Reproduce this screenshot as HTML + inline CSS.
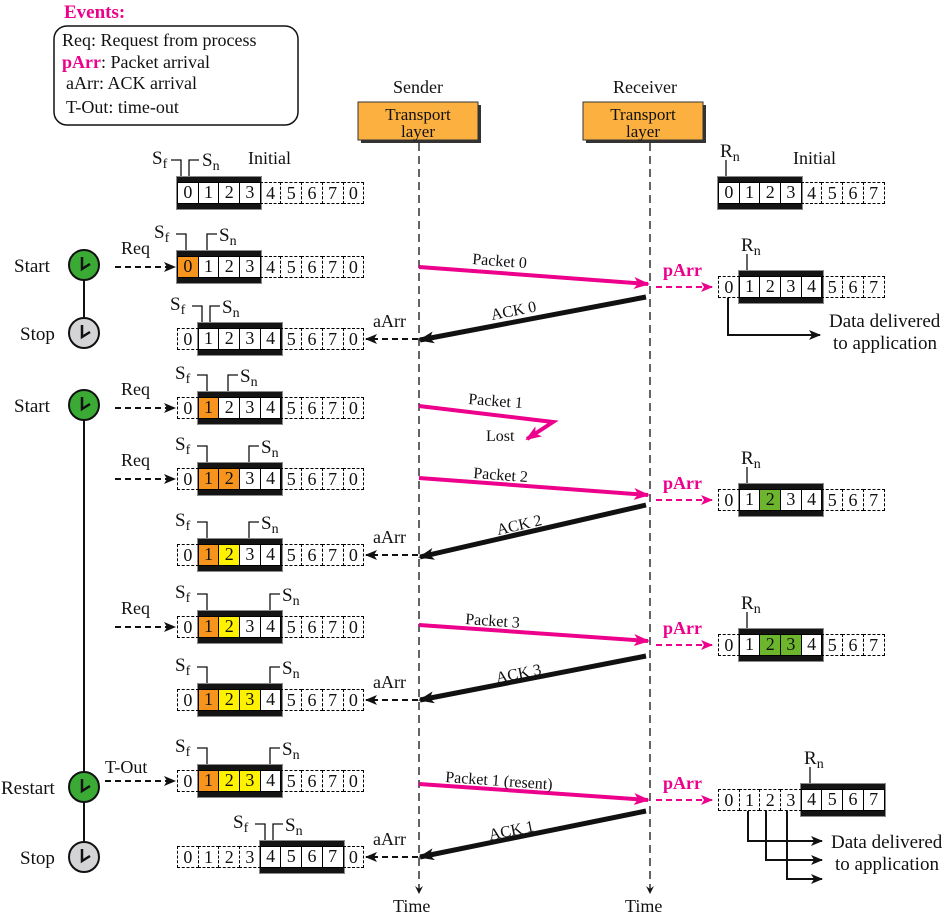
<!DOCTYPE html>
<html><head><meta charset="utf-8"><style>
body{margin:0;width:952px;height:917px;background:#fff;position:relative;overflow:hidden;font-family:"Liberation Serif",serif}
svg{position:absolute;left:0;top:0}
.win{position:absolute;background:#141414;border:1px solid #8a8a8a;box-sizing:border-box;height:34px}
.r{position:absolute;height:22px;display:flex}
.r span{flex:none;width:21.7px;height:22px;box-sizing:border-box;border:1px dashed #000;margin-left:-1px;text-align:center;font:18px/20px "Liberation Serif",serif;color:#111}
.r span.w{border:1.5px solid #000;background:#fff;line-height:19px}
.r span.o{background:#f7941d}
.r span.y{background:#fff200}
.r span.g{background:#6cb52d}
</style></head><body>
<svg width="952" height="917" font-family="Liberation Serif, serif" font-size="18" fill="#111">
<defs>
<marker id="ap" markerWidth="16" markerHeight="12" refX="14" refY="6" orient="auto" markerUnits="userSpaceOnUse"><path d="M0,0 L16,6 L0,12 L4,6z" fill="#ec008c"/></marker>
<marker id="ab" markerWidth="16" markerHeight="12" refX="14" refY="6" orient="auto" markerUnits="userSpaceOnUse"><path d="M0,0 L16,6 L0,12 L4,6z" fill="#111"/></marker>
<marker id="as" markerWidth="12" markerHeight="10" refX="11" refY="5" orient="auto" markerUnits="userSpaceOnUse"><path d="M0,0 L12,5 L0,10 L3,5z" fill="#111"/></marker>
<marker id="asp" markerWidth="12" markerHeight="10" refX="11" refY="5" orient="auto" markerUnits="userSpaceOnUse"><path d="M0,0 L12,5 L0,10 L3,5z" fill="#ec008c"/></marker>
<marker id="at" markerWidth="8" markerHeight="8" refX="4" refY="7" orient="0" markerUnits="userSpaceOnUse"><path d="M0,0 L4,8 L8,0 L4,3z" fill="#111"/></marker>
</defs>
<!-- legend -->
<text x="64" y="18" font-weight="bold" fill="#ec008c" font-size="19">Events:</text>
<rect x="54" y="26" width="244" height="99" rx="13" fill="none" stroke="#111" stroke-width="1.5"/>
<text x="62" y="46">Req: Request from process</text>
<text x="62" y="68"><tspan fill="#ec008c" font-weight="bold">pArr</tspan>: Packet arrival</text>
<text x="66" y="89">aArr: ACK arrival</text>
<text x="66" y="113">T-Out: time-out</text>
<!-- headers -->
<text x="418" y="93" text-anchor="middle">Sender</text>
<text x="645" y="93" text-anchor="middle">Receiver</text>
<rect x="361" y="105" width="120" height="38" fill="#333"/>
<rect x="358" y="102" width="120" height="38" fill="#fbb040" stroke="#333"/>
<text x="418" y="120" text-anchor="middle" font-size="17">Transport</text>
<text x="418" y="137" text-anchor="middle" font-size="17">layer</text>
<rect x="586" y="105" width="120" height="38" fill="#333"/>
<rect x="583" y="102" width="120" height="38" fill="#fbb040" stroke="#333"/>
<text x="643" y="120" text-anchor="middle" font-size="17">Transport</text>
<text x="643" y="137" text-anchor="middle" font-size="17">layer</text>
<!-- lifelines -->
<line x1="419" y1="143" x2="419" y2="893" stroke="#111" stroke-width="1.3" stroke-dasharray="8,5" marker-end="url(#at)"/>
<line x1="650" y1="143" x2="650" y2="893" stroke="#111" stroke-width="1.3" stroke-dasharray="8,5" marker-end="url(#at)"/>
<text x="393" y="912">Time</text>
<text x="625" y="912">Time</text>
<text x="248" y="164">Initial</text>
<text x="793" y="164">Initial</text>
<!-- clocks -->
<g stroke="#111" stroke-width="2">
<line x1="84" y1="280" x2="84" y2="318"/><line x1="84" y1="420" x2="84" y2="772"/><line x1="84" y1="802" x2="84" y2="842"/>
<circle cx="84" cy="265" r="15" fill="#3aaa35"/><circle cx="84" cy="333" r="15" fill="#d4d4d6"/>
<circle cx="84" cy="405" r="15" fill="#3aaa35"/><circle cx="84" cy="787" r="15" fill="#3aaa35"/>
<circle cx="84" cy="857" r="15" fill="#d4d4d6"/>
<g fill="none" stroke-width="2.5"><path d="M82,257V269L90,264"/><path d="M82,325V337L90,332"/><path d="M82,397V409L90,404"/><path d="M82,779V791L90,786"/><path d="M82,849V861L90,856"/></g>
</g>
<g font-size="19"><text x="14" y="272">Start</text><text x="20" y="340">Stop</text><text x="14" y="412">Start</text><text x="1" y="794">Restart</text><text x="20" y="864">Stop</text></g>
<!-- req arrows -->
<g stroke="#111" stroke-width="2" stroke-dasharray="6,4">
<line x1="115" y1="267" x2="175" y2="267" marker-end="url(#as)"/>
<line x1="115" y1="408" x2="175" y2="408" marker-end="url(#as)"/>
<line x1="115" y1="479" x2="175" y2="479" marker-end="url(#as)"/>
<line x1="115" y1="627" x2="175" y2="627" marker-end="url(#as)"/>
<line x1="105" y1="781" x2="175" y2="781" marker-end="url(#as)"/>
<line x1="418" y1="339" x2="366" y2="339" marker-end="url(#as)"/>
<line x1="418" y1="555" x2="366" y2="555" marker-end="url(#as)"/>
<line x1="418" y1="700" x2="366" y2="700" marker-end="url(#as)"/>
<line x1="418" y1="857" x2="366" y2="857" marker-end="url(#as)"/>
</g>
<text x="121" y="254">Req</text><text x="121" y="395">Req</text><text x="121" y="466">Req</text><text x="121" y="614">Req</text><text x="105" y="773">T-Out</text>
<text x="373" y="327">aArr</text><text x="373" y="543">aArr</text><text x="373" y="688">aArr</text><text x="373" y="845">aArr</text>
<!-- packets -->
<g stroke="#ec008c" stroke-width="4" fill="none">
<line x1="419" y1="267" x2="648" y2="284" marker-end="url(#ap)"/>
<polyline points="419,406 553,422 527,439" marker-end="url(#ap)"/>
<line x1="419" y1="478" x2="648" y2="495" marker-end="url(#ap)"/>
<line x1="419" y1="625" x2="648" y2="641" marker-end="url(#ap)"/>
<line x1="419" y1="784" x2="648" y2="800" marker-end="url(#ap)"/>
</g>
<g stroke="#111" stroke-width="5" fill="none">
<line x1="646" y1="297" x2="420" y2="340" marker-end="url(#ab)"/>
<line x1="646" y1="505" x2="420" y2="557" marker-end="url(#ab)"/>
<line x1="646" y1="656" x2="420" y2="700" marker-end="url(#ab)"/>
<line x1="646" y1="811" x2="420" y2="857" marker-end="url(#ab)"/>
</g>
<g font-size="16">
<text x="472" y="264" transform="rotate(4.3 472 264)">Packet 0</text>
<text x="468" y="404" transform="rotate(4.3 468 404)">Packet 1</text>
<text x="486" y="441">Lost</text>
<text x="473" y="478" transform="rotate(4.3 473 478)">Packet 2</text>
<text x="465" y="624" transform="rotate(4 465 624)">Packet 3</text>
<text x="445" y="782" transform="rotate(4 445 782)">Packet 1 (resent)</text>
<text x="492" y="320" transform="rotate(-10.8 492 320)">ACK 0</text>
<text x="498" y="535" transform="rotate(-12.8 498 535)">ACK 2</text>
<text x="497" y="683" transform="rotate(-11 497 683)">ACK 3</text>
<text x="490" y="840" transform="rotate(-11.5 490 840)">ACK 1</text>
</g>
<!-- pArr -->
<g stroke="#ec008c" stroke-width="2" stroke-dasharray="6,4">
<line x1="656" y1="287" x2="712" y2="287" marker-end="url(#asp)"/>
<line x1="656" y1="500" x2="712" y2="500" marker-end="url(#asp)"/>
<line x1="656" y1="645" x2="712" y2="645" marker-end="url(#asp)"/>
<line x1="656" y1="800" x2="712" y2="800" marker-end="url(#asp)"/>
</g>
<g fill="#ec008c" font-weight="bold"><text x="663" y="276">pArr</text><text x="663" y="489">pArr</text><text x="663" y="634">pArr</text><text x="663" y="789">pArr</text></g>
<!-- delivered -->
<g stroke="#111" stroke-width="2" fill="none">
<path d="M728,298V335H820" marker-end="url(#as)"/>
<path d="M748,811V841H822" marker-end="url(#as)"/>
<path d="M766,811V860H822" marker-end="url(#as)"/>
<path d="M787,811V879H822" marker-end="url(#as)"/>
</g>
<g font-size="19"><text x="829" y="327">Data delivered</text><text x="833" y="349">to application</text>
<text x="831" y="848">Data delivered</text><text x="835" y="870">to application</text></g>
<!-- markers Sf/Sn -->
<g stroke="#111" stroke-width="1.3" fill="none">
<path d="M171,160H181V176M199,160H189V176"/>
<path d="M176,234H186V250M217,234H207V250"/>
<path d="M192,306H202V322M220,306H210V322"/>
<path d="M197,375H207V391M238,375H228V391"/>
<path d="M197,446H207V462M259,446H249V462"/>
<path d="M197,522H207V538M259,522H249V538"/>
<path d="M197,594H207V610M280,594H270V610"/>
<path d="M197,667H207V683M280,667H270V683"/>
<path d="M197,748H207V764M280,748H270V764"/>
<path d="M255,824H265V840M283,824H273V840"/>
<path d="M726,160V176M747,254V270M747,467V483M747,612V628M810,767V783"/>
</g>
<g font-size="19">
<text x="152" y="164">S<tspan font-size="14" dy="4">f</tspan></text><text x="202" y="166">S<tspan font-size="14" dy="4">n</tspan></text>
<text x="154" y="238">S<tspan font-size="14" dy="4">f</tspan></text><text x="219" y="241">S<tspan font-size="14" dy="4">n</tspan></text>
<text x="170" y="310">S<tspan font-size="14" dy="4">f</tspan></text><text x="222" y="313">S<tspan font-size="14" dy="4">n</tspan></text>
<text x="175" y="379">S<tspan font-size="14" dy="4">f</tspan></text><text x="240" y="382">S<tspan font-size="14" dy="4">n</tspan></text>
<text x="175" y="450">S<tspan font-size="14" dy="4">f</tspan></text><text x="261" y="453">S<tspan font-size="14" dy="4">n</tspan></text>
<text x="175" y="526">S<tspan font-size="14" dy="4">f</tspan></text><text x="261" y="529">S<tspan font-size="14" dy="4">n</tspan></text>
<text x="175" y="598">S<tspan font-size="14" dy="4">f</tspan></text><text x="282" y="601">S<tspan font-size="14" dy="4">n</tspan></text>
<text x="175" y="671">S<tspan font-size="14" dy="4">f</tspan></text><text x="282" y="674">S<tspan font-size="14" dy="4">n</tspan></text>
<text x="175" y="752">S<tspan font-size="14" dy="4">f</tspan></text><text x="282" y="755">S<tspan font-size="14" dy="4">n</tspan></text>
<text x="233" y="828">S<tspan font-size="14" dy="4">f</tspan></text><text x="285" y="831">S<tspan font-size="14" dy="4">n</tspan></text>
<text x="720" y="157">R<tspan font-size="14" dy="4">n</tspan></text>
<text x="741" y="251">R<tspan font-size="14" dy="4">n</tspan></text>
<text x="741" y="464">R<tspan font-size="14" dy="4">n</tspan></text>
<text x="741" y="609">R<tspan font-size="14" dy="4">n</tspan></text>
<text x="804" y="764">R<tspan font-size="14" dy="4">n</tspan></text>
</g>
</svg>
<!-- sender windows -->
<div class="win" style="left:176px;top:176px;width:86px"></div>
<div class="r" style="left:178px;top:182px"><span class="w">0</span><span class="w">1</span><span class="w">2</span><span class="w">3</span><span>4</span><span>5</span><span>6</span><span>7</span><span>0</span></div>
<div class="win" style="left:176px;top:250px;width:86px"></div>
<div class="r" style="left:178px;top:256px"><span class="w o">0</span><span class="w">1</span><span class="w">2</span><span class="w">3</span><span>4</span><span>5</span><span>6</span><span>7</span><span>0</span></div>
<div class="win" style="left:197px;top:322px;width:86px"></div>
<div class="r" style="left:178px;top:328px"><span>0</span><span class="w">1</span><span class="w">2</span><span class="w">3</span><span class="w">4</span><span>5</span><span>6</span><span>7</span><span>0</span></div>
<div class="win" style="left:197px;top:391px;width:86px"></div>
<div class="r" style="left:178px;top:397px"><span>0</span><span class="w o">1</span><span class="w">2</span><span class="w">3</span><span class="w">4</span><span>5</span><span>6</span><span>7</span><span>0</span></div>
<div class="win" style="left:197px;top:462px;width:86px"></div>
<div class="r" style="left:178px;top:468px"><span>0</span><span class="w o">1</span><span class="w o">2</span><span class="w">3</span><span class="w">4</span><span>5</span><span>6</span><span>7</span><span>0</span></div>
<div class="win" style="left:197px;top:538px;width:86px"></div>
<div class="r" style="left:178px;top:544px"><span>0</span><span class="w o">1</span><span class="w y">2</span><span class="w">3</span><span class="w">4</span><span>5</span><span>6</span><span>7</span><span>0</span></div>
<div class="win" style="left:197px;top:610px;width:86px"></div>
<div class="r" style="left:178px;top:616px"><span>0</span><span class="w o">1</span><span class="w y">2</span><span class="w">3</span><span class="w">4</span><span>5</span><span>6</span><span>7</span><span>0</span></div>
<div class="win" style="left:197px;top:683px;width:86px"></div>
<div class="r" style="left:178px;top:689px"><span>0</span><span class="w o">1</span><span class="w y">2</span><span class="w y">3</span><span class="w">4</span><span>5</span><span>6</span><span>7</span><span>0</span></div>
<div class="win" style="left:197px;top:764px;width:86px"></div>
<div class="r" style="left:178px;top:770px"><span>0</span><span class="w o">1</span><span class="w y">2</span><span class="w y">3</span><span class="w">4</span><span>5</span><span>6</span><span>7</span><span>0</span></div>
<div class="win" style="left:259px;top:840px;width:86px"></div>
<div class="r" style="left:178px;top:846px"><span>0</span><span>1</span><span>2</span><span>3</span><span class="w">4</span><span class="w">5</span><span class="w">6</span><span class="w">7</span><span>0</span></div>
<!-- receiver windows -->
<div class="win" style="left:717px;top:176px;width:86px"></div>
<div class="r" style="left:719px;top:182px"><span class="w">0</span><span class="w">1</span><span class="w">2</span><span class="w">3</span><span>4</span><span>5</span><span>6</span><span>7</span></div>
<div class="win" style="left:738px;top:270px;width:86px"></div>
<div class="r" style="left:719px;top:276px"><span>0</span><span class="w">1</span><span class="w">2</span><span class="w">3</span><span class="w">4</span><span>5</span><span>6</span><span>7</span></div>
<div class="win" style="left:738px;top:483px;width:86px"></div>
<div class="r" style="left:719px;top:489px"><span>0</span><span class="w">1</span><span class="w g">2</span><span class="w">3</span><span class="w">4</span><span>5</span><span>6</span><span>7</span></div>
<div class="win" style="left:738px;top:628px;width:86px"></div>
<div class="r" style="left:719px;top:634px"><span>0</span><span class="w">1</span><span class="w g">2</span><span class="w g">3</span><span class="w">4</span><span>5</span><span>6</span><span>7</span></div>
<div class="win" style="left:800px;top:783px;width:86px"></div>
<div class="r" style="left:719px;top:789px"><span>0</span><span>1</span><span>2</span><span>3</span><span class="w">4</span><span class="w">5</span><span class="w">6</span><span class="w">7</span></div>
</body></html>
